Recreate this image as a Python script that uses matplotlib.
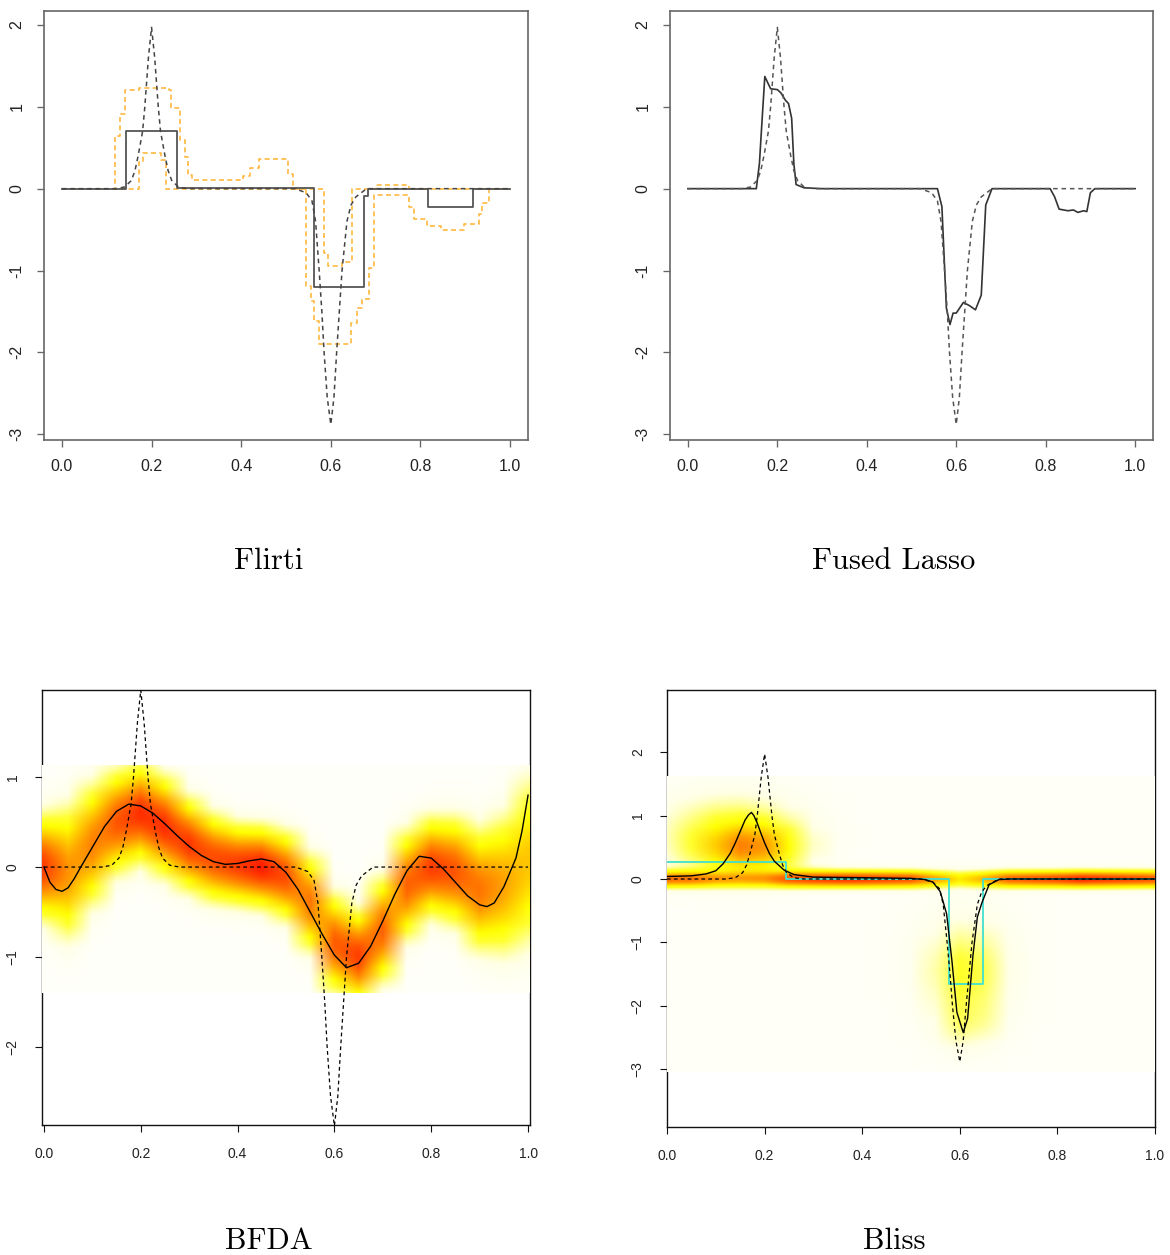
import numpy as np
import matplotlib; matplotlib.use("Agg")
import matplotlib.pyplot as plt
from matplotlib.colors import LinearSegmentedColormap

plt.rcParams["font.family"] = ["Liberation Sans", "DejaVu Sans"]

# true coefficient function (dashed in every panel)
truth_x = [0, 0.12, 0.14, 0.155, 0.163, 0.17, 0.18, 0.185, 0.193, 0.2, 0.207, 0.215, 0.22, 0.23,
           0.237, 0.245, 0.26, 0.28, 0.52, 0.545, 0.558, 0.566, 0.574, 0.58, 0.585, 0.592, 0.6,
           0.607, 0.613, 0.619, 0.625, 0.636, 0.645, 0.656, 0.68, 1.0]
truth_y = [0, 0, 0.02, 0.1, 0.22, 0.4, 0.7, 1.0, 1.6, 1.97, 1.6, 1.0, 0.7, 0.4,
           0.22, 0.1, 0.02, 0, 0, -0.05, -0.15, -0.4, -1.0, -1.5, -2.0, -2.55, -2.88,
           -2.55, -2.0, -1.5, -1.0, -0.4, -0.2, -0.1, 0, 0]

# Flirti: estimate + band (step functions, value holds until next break)
flirti_x = [0, 0.144, 0.256, 0.562, 0.673, 0.684, 0.816, 0.918, 1.0]
flirti_y = [0, 0.71, 0.01, -1.2, -0.09, 0.0, -0.23, 0.0, 0.0]
hi_x = [0, 0.118, 0.13, 0.141, 0.171, 0.24, 0.244, 0.263, 0.275, 0.281, 0.29, 0.405, 0.42,
        0.44, 0.505, 0.515, 0.585, 0.594, 0.625, 0.647, 0.70, 0.775, 1.0]
hi_y = [0, 0.64, 0.91, 1.2, 1.235, 1.21, 0.99, 0.6, 0.39, 0.17, 0.11, 0.16,
        0.25, 0.36, 0.18, 0, -0.78, -0.94, -0.89, 0, 0.04, 0, 0]
lo_x = [0, 0.171, 0.18, 0.222, 0.232, 0.544, 0.555, 0.563, 0.574, 0.644, 0.659, 0.67, 0.685,
        0.697, 0.775, 0.785, 0.815, 0.845, 0.897, 0.93, 0.937, 0.953, 1.0]
lo_y = [0, 0.33, 0.43, 0.35, 0, -1.19, -1.37, -1.62, -1.9, -1.64, -1.46, -1.35, -0.97,
        -0.08, -0.23, -0.37, -0.46, -0.51, -0.43, -0.31, -0.17, 0, 0]

# Fused lasso estimate
fl_x = [0, 0.153, 0.16, 0.165, 0.172, 0.178, 0.185, 0.2, 0.208, 0.218, 0.225, 0.232, 0.237, 0.242,
        0.26, 0.3, 0.558, 0.568, 0.578, 0.586, 0.593, 0.6, 0.616, 0.63, 0.643, 0.656, 0.666, 0.68,
        0.81, 0.82, 0.83, 0.85, 0.862, 0.872, 0.885, 0.892, 0.9, 0.91, 1.0]
fl_y = [0, 0, 0.31, 0.76, 1.37, 1.3, 1.22, 1.21, 1.17, 1.08, 1.04, 0.86, 0.3, 0.05,
        0.01, 0, 0, -0.22, -1.46, -1.66, -1.52, -1.52, -1.39, -1.43, -1.48, -1.3, -0.2, 0,
        0, -0.1, -0.25, -0.27, -0.26, -0.29, -0.27, -0.28, -0.05, 0, 0]

# BFDA posterior mean
bfda_x = [0, 0.0125, 0.025, 0.0375, 0.05, 0.0625, 0.075, 0.1, 0.125, 0.15, 0.175, 0.2, 0.225, 0.25,
          0.275, 0.3, 0.325, 0.35, 0.375, 0.4, 0.425, 0.45, 0.475, 0.5, 0.525, 0.55, 0.575, 0.6,
          0.625, 0.65, 0.675, 0.7, 0.725, 0.75, 0.775, 0.8, 0.825, 0.85, 0.875, 0.9, 0.915, 0.93,
          0.95, 0.975, 0.9875, 1.0]
bfda_y = [0, -0.17, -0.25, -0.27, -0.23, -0.13, -0.01, 0.22, 0.45, 0.62, 0.70, 0.68, 0.60, 0.48,
          0.35, 0.23, 0.13, 0.06, 0.03, 0.04, 0.07, 0.09, 0.06, -0.06, -0.25, -0.50, -0.75, -0.98,
          -1.12, -1.07, -0.88, -0.60, -0.30, -0.04, 0.12, 0.10, -0.02, -0.17, -0.32, -0.42, -0.44,
          -0.40, -0.22, 0.10, 0.40, 0.80]
# BFDA posterior density: column centre, spread, peak (x every 0.05)
heat_x = [0, 0.05, 0.1, 0.15, 0.2, 0.25, 0.3, 0.35, 0.4, 0.45, 0.5, 0.55, 0.6, 0.65, 0.7, 0.75,
          0.8, 0.85, 0.9, 0.95, 1.0]
bfda_hc = [0, -0.05, 0.25, 0.5, 0.6, 0.45, 0.25, 0.1, 0.03, 0.0, -0.1, -0.4, -0.85, -1.0, -0.7,
           -0.2, 0.0, -0.05, -0.25, -0.2, 0.05]
bfda_hs = [0.32, 0.42, 0.38, 0.32, 0.3, 0.3, 0.28, 0.27, 0.25, 0.25, 0.27, 0.3, 0.3, 0.28, 0.32,
           0.33, 0.3, 0.33, 0.38, 0.45, 0.55]
bfda_hp = [0.9, 0.62, 0.68, 0.82, 0.95, 0.95, 0.92, 0.85, 0.9, 1.0, 0.85, 0.72, 0.8, 0.9, 0.78,
           0.78, 0.9, 0.82, 0.72, 0.58, 0.48]

# Bliss estimate + step estimate
bliss_x = [0, 0.05, 0.08, 0.1, 0.115, 0.13, 0.14, 0.15, 0.16, 0.167, 0.173, 0.178, 0.185, 0.192,
           0.2, 0.21, 0.22, 0.24, 0.26, 0.3, 0.4, 0.5, 0.53, 0.545, 0.56, 0.573, 0.584, 0.594,
           0.607, 0.616, 0.627, 0.636, 0.645, 0.66, 0.68, 0.7, 1.0]
bliss_y = [0.04, 0.05, 0.08, 0.13, 0.24, 0.41, 0.57, 0.75, 0.93, 1.01, 1.05, 1.0, 0.88, 0.73,
           0.57, 0.4, 0.28, 0.14, 0.07, 0.03, 0.02, 0.01, -0.01, -0.05, -0.2, -0.55, -1.3, -2.1,
           -2.42, -2.2, -1.2, -0.6, -0.38, -0.09, -0.01, 0, 0]
step_x = [0, 0.243, 0.577, 0.648, 1.0]
step_y = [0.27, 0, -1.66, 0, 0]
# Bliss posterior density: band at zero (x every 0.05) + blobs (x, y, sx, sy, amp)
bliss_band = [0.7, 0.65, 0.5, 0.45, 0.5, 0.75, 0.85, 0.9, 0.9, 0.85, 0.8, 0.55, 0.35, 0.5, 0.75,
              0.8, 0.85, 0.95, 0.9, 0.85, 0.8]
bliss_blobs = [(0.17, 0.5, 0.06, 0.25, 0.5), (0.13, 0.7, 0.1, 0.45, 0.22),
               (0.615, -1.5, 0.045, 0.45, 0.16), (0.615, -2.3, 0.04, 0.3, 0.12),
               (0.61, -1.3, 0.08, 0.7, 0.08)]

heat = LinearSegmentedColormap.from_list(
    "rheat", [(0, "#FFFFFA"), (0.08, "#FFFFE6"), (0.22, "#FFFF30"), (0.32, "#FFFF00"),
              (0.6, "#FF9A00"), (1, "#FF1E00")])

fig = plt.figure(figsize=(11.7, 12.55), dpi=100)
W, H = 1170, 1255
def box(l, t, r, b):
    return [l / W, 1 - b / H, (r - l) / W, (b - t) / H]

ax1 = fig.add_axes(box(44, 11, 528, 440))
ax2 = fig.add_axes(box(670, 11, 1153, 440))
ax3 = fig.add_axes(box(42, 690, 530, 1125))
ax4 = fig.add_axes(box(667, 690, 1155, 1127))

xt = [0, 0.2, 0.4, 0.6, 0.8, 1.0]
xtl = ["0.0", "0.2", "0.4", "0.6", "0.8", "1.0"]

def r_style(ax, col, lw, fs, yt, ytl, pad):
    for s in ax.spines.values():
        s.set_color(col); s.set_linewidth(lw)
    ax.set_xticks(xt); ax.set_xticklabels(xtl)
    ax.set_yticks(yt); ax.set_yticklabels(ytl)
    ax.tick_params(direction="out", length=5, width=lw * 0.8, color=col, labelsize=fs,
                   labelcolor="#222222", pad=pad)
    for t in ax.get_yticklabels():
        t.set_rotation(90); t.set_va("center"); t.set_ha("right")

# Panel 1: Flirti
ax1.plot(hi_x, hi_y, drawstyle="steps-post", color="#FFB940", ls="--", lw=1.2, dashes=(3, 2))
ax1.plot(lo_x, lo_y, drawstyle="steps-post", color="#FFB940", ls="--", lw=1.2, dashes=(3, 2))
ax1.plot(flirti_x, flirti_y, drawstyle="steps-post", color="#555555", lw=1.3)
ax1.plot(truth_x, truth_y, color="#444444", ls="--", lw=1.1, dashes=(3, 2.5))
ax1.set_xlim(-0.04, 1.04); ax1.set_ylim(-3.07, 2.17)
r_style(ax1, "#666666", 1.2, 11.5, [-3, -2, -1, 0, 1, 2], ["-3", "-2", "-1", "0", "1", "2"], 9)

# Panel 2: Fused lasso
ax2.plot(fl_x, fl_y, color="#333333", lw=1.2)
ax2.plot(truth_x, truth_y, color="#555555", ls="--", lw=1.1, dashes=(3, 2.5))
ax2.set_xlim(-0.04, 1.04); ax2.set_ylim(-3.07, 2.17)
r_style(ax2, "#666666", 1.2, 11.5, [-3, -2, -1, 0, 1, 2], ["-3", "-2", "-1", "0", "1", "2"], 9)

# Panel 3: BFDA
yb = np.linspace(-1.4, 1.13, 200)[:, None]
img3 = np.array(bfda_hp) * np.exp(-0.5 * ((yb - np.array(bfda_hc)) / np.array(bfda_hs)) ** 2)
ax3.imshow(img3, cmap=heat, vmin=0, vmax=1, origin="lower", aspect="auto", interpolation="bilinear",
           extent=(-0.025, 1.025, -1.4, 1.13), zorder=3)
ax3.plot(bfda_x, bfda_y, color="black", lw=1.0, zorder=4)
ax3.plot(truth_x, truth_y, color="black", ls="--", lw=0.9, dashes=(3, 2.5), zorder=4)
ax3.set_xlim(-0.004, 1.004); ax3.set_ylim(-2.87, 1.97)
r_style(ax3, "#111111", 1.0, 10, [-2, -1, 0, 1], ["\u22122", "\u22121", "0", "1"], 11)

# Panel 4: Bliss
yb4 = np.linspace(-3.04, 1.62, 240)[:, None]
hx = np.array(heat_x)[None, :]
img4 = 0.01 + np.array(bliss_band) * np.exp(-0.5 * (yb4 / 0.085) ** 2)
for bx, by, sx, sy, amp in bliss_blobs:
    img4 = img4 + amp * np.exp(-0.5 * (((hx - bx) / sx) ** 2 + ((yb4 - by) / sy) ** 2))
ax4.imshow(img4, cmap=heat, vmin=0, vmax=1, origin="lower", aspect="auto", interpolation="bilinear",
           extent=(-0.025, 1.025, -3.04, 1.62), zorder=3)
ax4.plot(step_x, step_y, drawstyle="steps-post", color="#40E0D0", lw=1.3, zorder=4)
ax4.plot(bliss_x, bliss_y, color="black", lw=1.0, zorder=5)
ax4.plot(truth_x, truth_y, color="black", ls="--", lw=0.9, dashes=(3, 2.5), zorder=5)
ax4.set_xlim(0, 1); ax4.set_ylim(-3.91, 2.98)
r_style(ax4, "#111111", 1.0, 10, [-3, -2, -1, 0, 1, 2],
        ["\u22123", "\u22122", "\u22121", "0", "1", "2"], 11)

for x, y, s in [(269, 569, "Flirti"), (894, 569, "Fused Lasso"), (269, 1249, "BFDA"), (894, 1249, "Bliss")]:
    fig.text(x / W, 1 - y / H, s, family="cmr10", size=22, ha="center", va="baseline")

fig.savefig("out.png", dpi=100)
